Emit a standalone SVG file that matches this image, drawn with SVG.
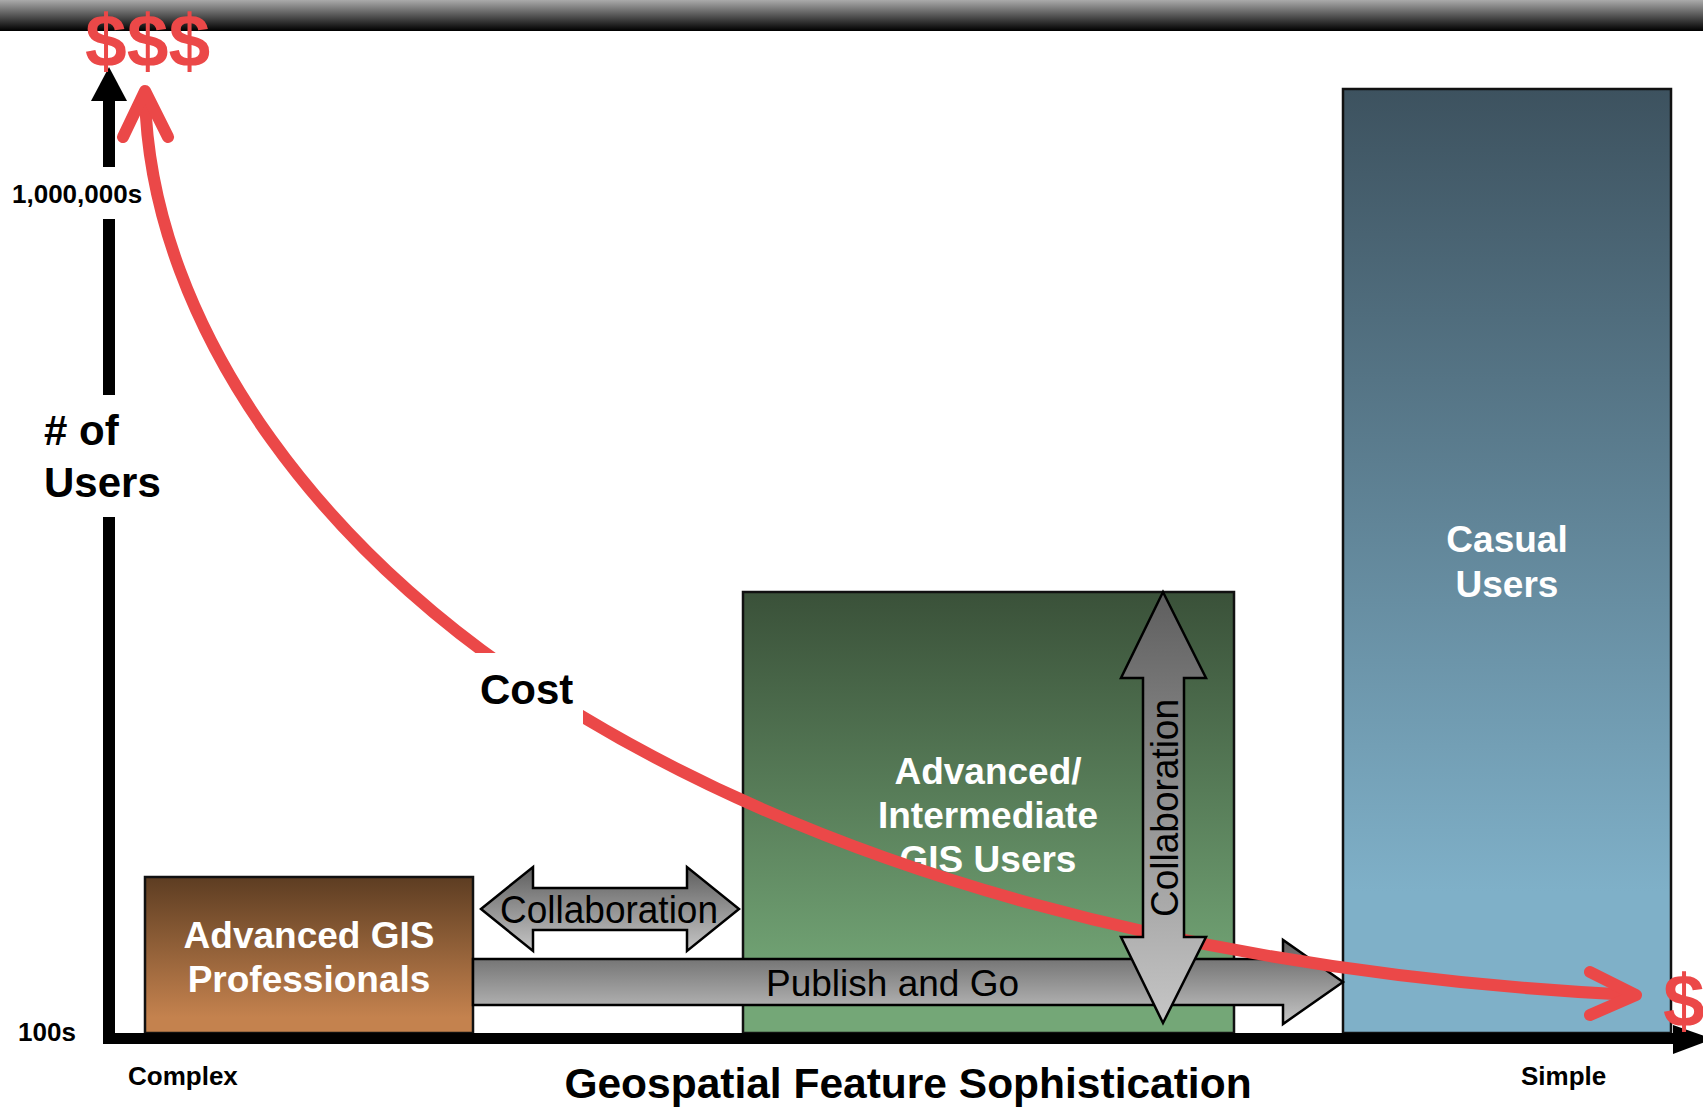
<svg xmlns="http://www.w3.org/2000/svg" width="1703" height="1107" viewBox="0 0 1703 1107">
<defs>
<linearGradient id="gBar" x1="0" y1="0" x2="0" y2="1"><stop offset="0" stop-color="#aaaaaa"/><stop offset="1" stop-color="#000000"/></linearGradient>
<linearGradient id="gBrown" x1="0" y1="0" x2="0" y2="1"><stop offset="0" stop-color="#5d3d22"/><stop offset="0.9" stop-color="#c4824e"/><stop offset="1" stop-color="#c4824e"/></linearGradient>
<linearGradient id="gGreen" x1="0" y1="0" x2="0" y2="1"><stop offset="0" stop-color="#3a5139"/><stop offset="0.9" stop-color="#74a777"/><stop offset="1" stop-color="#74a777"/></linearGradient>
<linearGradient id="gBlue" x1="0" y1="0" x2="0" y2="1"><stop offset="0" stop-color="#3d525f"/><stop offset="0.85" stop-color="#7fb0c8"/><stop offset="1" stop-color="#7fb0c8"/></linearGradient>
<linearGradient id="gGray" x1="0" y1="0" x2="0" y2="1"><stop offset="0" stop-color="#5e5e5e"/><stop offset="1" stop-color="#c6c6c6"/></linearGradient>
</defs>
<style>
.box{stroke:#111;stroke-width:2.5}
.arr{fill:url(#gGray);stroke:#000;stroke-width:2.5;stroke-linejoin:miter}
.wt{font-family:"Liberation Sans",Arial,sans-serif;font-weight:bold;fill:#fff;font-size:37px;text-anchor:middle}
.bk{font-family:"Liberation Sans",Arial,sans-serif;font-weight:bold;fill:#000}
.reg{font-family:"Liberation Sans",Arial,sans-serif;fill:#000}
.red{fill:none;stroke:#eb4848;stroke-width:12;stroke-linecap:round;stroke-linejoin:round}
.dol{font-family:"Liberation Sans",Arial,sans-serif;font-weight:bold;fill:#eb4848;font-size:75px}
</style>
<rect x="0" y="0" width="1703" height="31" fill="url(#gBar)"/>

<g id="brown-box">
<rect class="box" x="145" y="877" width="328" height="156" fill="url(#gBrown)"/>
<text class="wt" x="309" y="948">Advanced GIS</text>
<text class="wt" x="309" y="992">Professionals</text>
</g>
<g id="green-box">
<rect class="box" x="743" y="592" width="491" height="441" fill="url(#gGreen)"/>
<text class="wt" x="988" y="784">Advanced/</text>
<text class="wt" x="988" y="828">Intermediate</text>
<text class="wt" x="988" y="872">GIS Users</text>
</g>
<g id="blue-box">
<rect class="box" x="1343" y="89" width="328" height="944" fill="url(#gBlue)"/>
<text class="wt" x="1507" y="552">Casual</text>
<text class="wt" x="1507" y="597">Users</text>
</g>

<g id="axes">
<polygon points="109,67 127,101 91,101" fill="#000"/>
<rect x="103" y="100" width="12" height="67" fill="#000"/>
<rect x="103" y="219" width="12" height="176" fill="#000"/>
<rect x="103" y="517" width="12" height="527" fill="#000"/>
<rect x="103" y="1033" width="1572" height="11" fill="#000"/>
<polygon points="1673,1025 1713,1039 1673,1054" fill="#000"/>
<text class="bk" x="12" y="203" font-size="26">1,000,000s</text>
<text class="bk" x="44" y="445" font-size="42"># of</text>
<text class="bk" x="44" y="497" font-size="42">Users</text>
<text class="bk" x="18" y="1041" font-size="26">100s</text>
<text class="bk" x="128" y="1085" font-size="26">Complex</text>
<text class="bk" x="1521" y="1085" font-size="26">Simple</text>
<text class="bk" x="908" y="1098" font-size="42.5" text-anchor="middle">Geospatial Feature Sophistication</text>
</g>

<g id="connectors">
<g id="collab-horizontal">
<polygon class="arr" points="481,909 533,867 533,888 687,888 687,867 739,909 687,951 687,930 533,930 533,951"/>
<text class="reg" x="609" y="923" font-size="38" text-anchor="middle" textLength="218" lengthAdjust="spacingAndGlyphs">Collaboration</text>
</g>
<g id="publish-and-go">
<polygon class="arr" points="473,959 1283,959 1283,940 1343,982 1283,1024 1283,1005 473,1005"/>
<text class="reg" x="766" y="996" font-size="37">Publish and Go</text>
</g>
<g id="cost-curve">
<path class="red" d="M145,95 C150,330 330,570 583,717 C833,867 1182,972.5 1632,995"/>
<polyline class="red" points="123,137 145,91 168,137"/>
<polyline class="red" points="1590,972 1636,995 1590,1015"/>
<rect x="466" y="653" width="117" height="80" fill="#fff"/>
<text class="bk" x="480" y="704" font-size="42">Cost</text>
</g>
<g id="collab-vertical">
<polygon class="arr" points="1163,592 1206,678 1184,678 1184,937 1206,937 1163,1023 1121,937 1143,937 1143,678 1121,678"/>
<text class="reg" transform="translate(1178,808) rotate(-90)" x="0" y="0" font-size="38" text-anchor="middle" textLength="218" lengthAdjust="spacingAndGlyphs">Collaboration</text>
</g>
</g>

<text class="dol" x="85" y="66">$$$</text>
<text class="dol" x="1663" y="1026">$</text>
</svg>
